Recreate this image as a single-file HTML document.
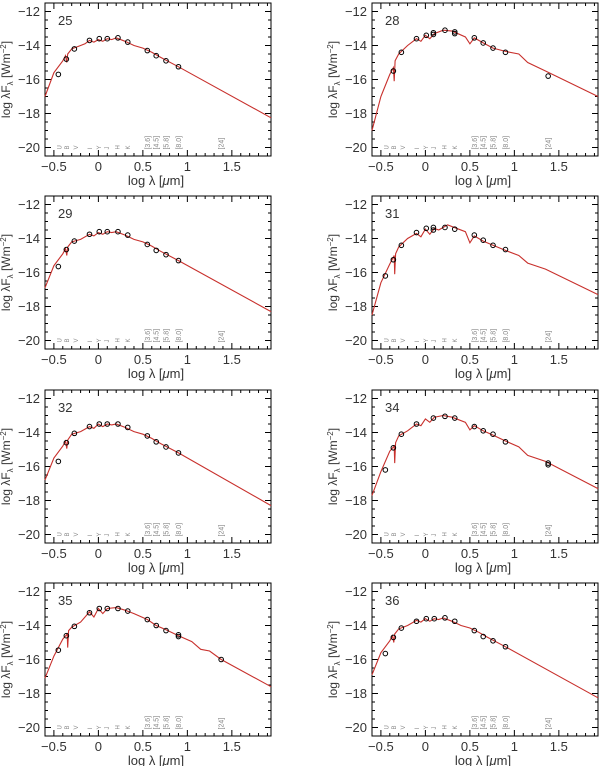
<!DOCTYPE html>
<html><head><meta charset="utf-8">
<style>
html,body{margin:0;padding:0;background:#fff;}
svg{display:block;font-family:"Liberation Sans",sans-serif;}
</style></head>
<body>
<svg id="fig" width="600" height="766" viewBox="0 0 600 766" xmlns="http://www.w3.org/2000/svg"></svg>
<script>
const panelIds = ["25","28","29","31","32","34","35","36"];
const xTicks = [-0.5,0,0.5,1,1.5];
const xTickLabels = ["\u22120.5","0","0.5","1","1.5"];
const yTicks = [-12,-14,-16,-18,-20];
const yTickLabels = ["\u221212","\u221214","\u221216","\u221218","\u221220"];
const bandNames = ["U","B","V","I","Y","J","H","K","[3.6]","[4.5]","[5.8]","[8.0]","[24]"];
const bandX = [-0.44,-0.36,-0.26,-0.1,0.0,0.09,0.21,0.33,0.55,0.65,0.76,0.9,1.38];

const model25 = [[-0.6,-17.0],[-0.5,-15.6],[-0.4,-14.9],[-0.37,-14.6],[-0.355,-15.0],[-0.345,-14.5],[-0.3,-14.2],[-0.2,-14.0],[-0.15,-13.9],[-0.1,-13.7],[-0.05,-13.8],[0,-13.65],[0.05,-13.75],[0.1,-13.6],[0.15,-13.65],[0.2,-13.55],[0.3,-13.75],[0.4,-14.0],[0.5,-14.15],[0.6,-14.4],[0.7,-14.7],[0.9,-15.25],[1.94,-18.25]];
const data25 = [[-0.45,-15.7],[-0.36,-14.8],[-0.27,-14.2],[-0.1,-13.7],[0.01,-13.6],[0.1,-13.6],[0.22,-13.55],[0.33,-13.8],[0.55,-14.3],[0.65,-14.6],[0.76,-14.9],[0.9,-15.25]];

const model28 = [[-0.6,-19.0],[-0.5,-17.0],[-0.4,-15.7],[-0.36,-15.3],[-0.35,-16.1],[-0.34,-14.9],[-0.3,-14.5],[-0.2,-14.0],[-0.1,-13.6],[-0.05,-13.75],[0,-13.4],[0.05,-13.6],[0.1,-13.3],[0.2,-13.1],[0.3,-13.15],[0.45,-13.5],[0.5,-13.9],[0.55,-13.55],[0.65,-13.85],[0.76,-14.15],[0.9,-14.35],[1.05,-14.5],[1.15,-15.0],[1.35,-15.5],[1.94,-17.0]];
const data28 = [[-0.36,-15.5],[-0.27,-14.4],[-0.1,-13.6],[0.01,-13.4],[0.09,-13.25],[0.09,-13.35],[0.22,-13.1],[0.33,-13.2],[0.33,-13.3],[0.55,-13.55],[0.65,-13.85],[0.76,-14.15],[0.9,-14.4],[1.38,-15.8]];

const model29 = [[-0.6,-16.9],[-0.5,-15.6],[-0.4,-14.9],[-0.37,-14.6],[-0.355,-15.0],[-0.345,-14.5],[-0.3,-14.2],[-0.2,-14.05],[-0.1,-13.75],[-0.05,-13.85],[0,-13.65],[0.05,-13.75],[0.1,-13.6],[0.15,-13.65],[0.2,-13.6],[0.3,-13.8],[0.4,-14.05],[0.5,-14.2],[0.6,-14.45],[0.7,-14.75],[0.9,-15.3],[1.94,-18.3]];
const data29 = [[-0.45,-15.65],[-0.36,-14.65],[-0.27,-14.15],[-0.1,-13.75],[0.01,-13.6],[0.1,-13.6],[0.22,-13.6],[0.33,-13.8],[0.55,-14.35],[0.65,-14.7],[0.76,-14.95],[0.9,-15.3]];

const model31 = [[-0.6,-18.5],[-0.5,-16.6],[-0.4,-15.5],[-0.35,-15.0],[-0.345,-16.1],[-0.335,-14.9],[-0.3,-14.5],[-0.2,-14.0],[-0.1,-13.7],[-0.05,-13.9],[0,-13.45],[0.05,-13.75],[0.1,-13.4],[0.15,-13.5],[0.25,-13.2],[0.35,-13.4],[0.45,-13.6],[0.5,-14.25],[0.55,-13.85],[0.65,-14.15],[0.76,-14.4],[0.9,-14.7],[1.05,-15.0],[1.15,-15.45],[1.35,-15.8],[1.94,-17.3]];
const data31 = [[-0.45,-16.2],[-0.36,-15.25],[-0.27,-14.4],[-0.1,-13.65],[0.01,-13.4],[0.09,-13.5],[0.09,-13.35],[0.22,-13.35],[0.33,-13.45],[0.55,-13.8],[0.65,-14.1],[0.76,-14.4],[0.9,-14.65]];

const model32 = [[-0.6,-16.8],[-0.5,-15.5],[-0.4,-14.8],[-0.37,-14.5],[-0.355,-14.95],[-0.345,-14.45],[-0.3,-14.1],[-0.2,-13.95],[-0.1,-13.65],[-0.05,-13.75],[0,-13.5],[0.05,-13.65],[0.1,-13.5],[0.15,-13.55],[0.2,-13.5],[0.3,-13.7],[0.4,-13.95],[0.5,-14.1],[0.6,-14.35],[0.7,-14.65],[0.9,-15.2],[1.94,-18.3]];
const data32 = [[-0.45,-15.7],[-0.36,-14.6],[-0.27,-14.05],[-0.1,-13.65],[0.01,-13.5],[0.1,-13.5],[0.22,-13.5],[0.33,-13.7],[0.55,-14.2],[0.65,-14.55],[0.76,-14.85],[0.9,-15.2]];

const model34 = [[-0.6,-17.7],[-0.5,-16.3],[-0.4,-15.1],[-0.35,-14.8],[-0.345,-15.8],[-0.335,-14.6],[-0.3,-14.2],[-0.2,-13.9],[-0.1,-13.5],[-0.05,-13.6],[0,-13.2],[0.05,-13.4],[0.1,-13.1],[0.2,-13.0],[0.3,-13.1],[0.45,-13.4],[0.5,-13.85],[0.55,-13.6],[0.65,-13.9],[0.76,-14.15],[0.9,-14.5],[1.05,-14.85],[1.15,-15.35],[1.35,-15.7],[1.94,-17.3]];
const data34 = [[-0.45,-16.2],[-0.36,-14.9],[-0.27,-14.1],[-0.1,-13.5],[0.09,-13.15],[0.22,-13.05],[0.33,-13.15],[0.55,-13.65],[0.65,-13.9],[0.76,-14.1],[0.9,-14.55],[1.38,-15.8],[1.38,-15.9]];

const model35 = [[-0.6,-17.1],[-0.5,-15.8],[-0.4,-14.8],[-0.35,-14.5],[-0.345,-15.3],[-0.335,-14.3],[-0.3,-14.1],[-0.2,-13.8],[-0.1,-13.2],[-0.05,-13.5],[0,-13.0],[0.05,-13.3],[0.1,-13.0],[0.2,-12.95],[0.3,-13.1],[0.4,-13.3],[0.55,-13.65],[0.65,-14.0],[0.76,-14.25],[0.9,-14.6],[1.05,-14.95],[1.15,-15.4],[1.25,-15.5],[1.38,-16.0],[1.94,-17.6]];
const data35 = [[-0.45,-15.45],[-0.36,-14.6],[-0.27,-14.05],[-0.1,-13.25],[0.01,-13.0],[0.1,-13.0],[0.22,-13.0],[0.33,-13.15],[0.55,-13.65],[0.65,-14.0],[0.76,-14.3],[0.9,-14.55],[0.9,-14.65],[1.38,-16.0]];

const model36 = [[-0.6,-16.9],[-0.5,-15.6],[-0.4,-14.9],[-0.37,-14.6],[-0.355,-15.0],[-0.345,-14.5],[-0.3,-14.2],[-0.2,-14.0],[-0.1,-13.7],[-0.05,-13.8],[0,-13.6],[0.05,-13.75],[0.1,-13.6],[0.15,-13.65],[0.2,-13.55],[0.3,-13.75],[0.4,-14.0],[0.5,-14.15],[0.6,-14.4],[0.7,-14.7],[0.9,-15.25],[1.94,-18.25]];
const data36 = [[-0.45,-15.65],[-0.36,-14.7],[-0.27,-14.15],[-0.1,-13.75],[0.01,-13.6],[0.1,-13.6],[0.22,-13.55],[0.33,-13.75],[0.55,-14.3],[0.65,-14.65],[0.76,-14.9],[0.9,-15.25]];

const models = [model25,model28,model29,model31,model32,model34,model35,model36];
const datas = [data25,data28,data29,data31,data32,data34,data35,data36];

const NS = "http://www.w3.org/2000/svg";
const svg = document.getElementById("fig");
const X0 = -0.6, X1 = 1.94, Y0 = -20.5, Y1 = -11.5;
const W = 226, H = 153;
const lefts = [45, 372];
const tops = [3, 196, 390, 583];

function mk(tag, attrs, parent){
  const e = document.createElementNS(NS, tag);
  for (const k in attrs) e.setAttribute(k, attrs[k]);
  parent.appendChild(e);
  return e;
}

panelIds.forEach((id, i) => {
  const px = lefts[i % 2], py = tops[Math.floor(i / 2)];
  const sx = v => px + (v - X0) / (X1 - X0) * W;
  const sy = v => py + (Y1 - v) / (Y1 - Y0) * H;
  const g = mk("g", {}, svg);
  
  

  const frame = mk("rect", {x:px, y:py, width:W, height:H, fill:"none", stroke:"#000", "stroke-width":1}, g);
  
  

  let d = "";
  for (let k = -6; k <= 19; k++) {
    const v = k / 10; if (v < X0 || v > X1) continue;
    const L = (k % 5 === 0) ? 6 : 3; const x = sx(v);
    d += `M${x},${py+H}v${-L}M${x},${py}v${L}`;
  }
  for (let k = -41; k <= -23; k++) {
    const v = k / 2; if (v < Y0 || v > Y1) continue;
    const L = (k % 4 === 0) ? 6 : 3; const y = sy(v);
    d += `M${px},${y}h${L}M${px+W},${y}h${-L}`;
  }
  const ticks = mk("path", {d:d, stroke:"#000", "stroke-width":1, fill:"none"}, g);
  
  

  xTicks.forEach((v, j) => {
    const t = mk("text", {x:sx(v), y:py+H+15, "font-size":13, "text-anchor":"middle", fill:"#333"}, g);
    t.textContent = xTickLabels[j];
    
    
  });
  yTicks.forEach((v, j) => {
    const t = mk("text", {x:px-5, y:sy(v)+4.5, "font-size":13, "text-anchor":"end", fill:"#333"}, g);
    t.textContent = yTickLabels[j];
    
    
  });

  const xl = mk("text", {x:px+W/2-2, y:py+H+29, "font-size":13, "text-anchor":"middle", fill:"#333"}, g);
  xl.innerHTML = 'log \u03bb [<tspan font-style="italic">\u03bc</tspan>m]';
  
  

  const yx = px - 35, yy = py + H/2;
  const yl = mk("text", {x:yx, y:yy, "font-size":12, "text-anchor":"middle", fill:"#333", transform:`rotate(-90 ${yx} ${yy})`}, g);
  yl.innerHTML = 'log \u03bbF<tspan font-size="8" dy="3">\u03bb</tspan><tspan dy="-3"> [Wm</tspan><tspan font-size="8" dy="-4">\u22122</tspan><tspan dy="4">]</tspan>';
  
  

  const idt = mk("text", {x:px+13, y:py+22, "font-size":13, fill:"#333"}, g);
  idt.textContent = id;
  
  

  bandNames.forEach((b, j) => {
    const x = sx(bandX[j]), y = sy(-20) + 2;
    const t = mk("text", {x:x, y:y, "font-size":b.length > 1 ? 7 : 6, fill:"#888", transform:`rotate(-90 ${x} ${y})`, dy:"2.5"}, g);
    t.textContent = b;
    
    
  });

  const pts = models[i].map(p => `${sx(p[0]).toFixed(1)},${sy(p[1]).toFixed(1)}`).join(" ");
  const line = mk("polyline", {points:pts, fill:"none", stroke:"#c8302c", "stroke-width":1.1}, g);
  
  

  datas[i].forEach(p => {
    const c = mk("circle", {cx:sx(p[0]), cy:sy(p[1]), r:2.3, fill:"none", stroke:"#000", "stroke-width":1}, g);
    
    
  });
});
</script>
</body></html>
